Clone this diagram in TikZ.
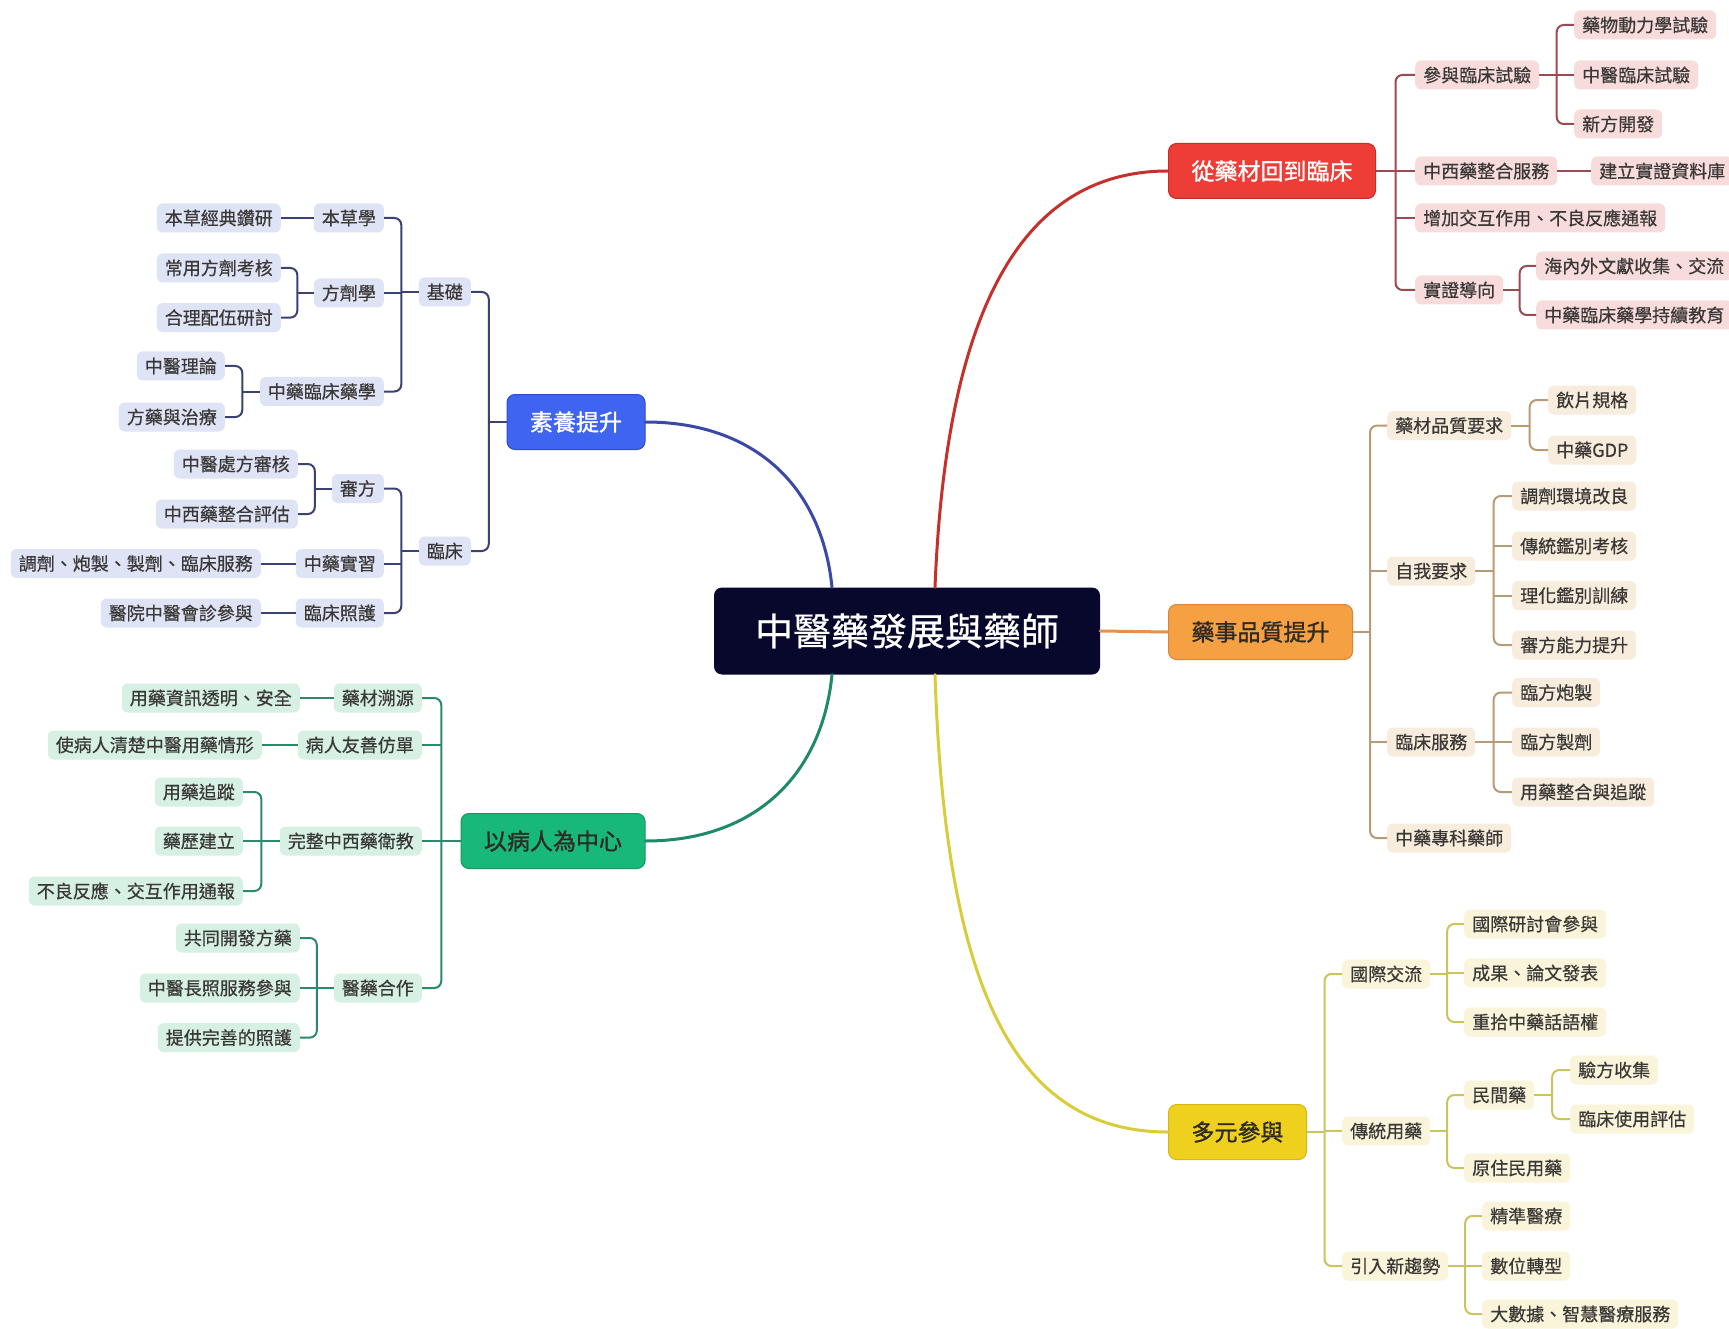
\documentclass[tikz,border=0pt]{standalone}
\usepackage{fontspec}
\setmainfont{Noto Sans CJK TC}
\newfontfamily\leaffont[FakeBold=0.5]{Noto Sans CJK TC}
\newfontfamily\mainfont[FakeBold=1.2]{Noto Sans CJK TC}
\usetikzlibrary{calc}
\definecolor{cenfill}{HTML}{08082C}
\definecolor{dtxt}{HTML}{2E2A24}
\definecolor{ltxt}{HTML}{3A3836}
% red
\definecolor{redmain}{HTML}{EE3D36}
\definecolor{rededge}{HTML}{C42E2A}
\definecolor{redline}{HTML}{C4302C}
\definecolor{redsub}{HTML}{9A4A52}
\definecolor{redlight}{HTML}{F8DCDC}
% orange
\definecolor{orgmain}{HTML}{F5A043}
\definecolor{orgedge}{HTML}{D8843A}
\definecolor{orgline}{HTML}{E8904A}
\definecolor{orgsub}{HTML}{B89A74}
\definecolor{orglight}{HTML}{F8ECDD}
% yellow
\definecolor{yelmain}{HTML}{F0D01E}
\definecolor{yeledge}{HTML}{D4B816}
\definecolor{yelline}{HTML}{D9CC3A}
\definecolor{yelsub}{HTML}{CBC35C}
\definecolor{yellight}{HTML}{FAF5DA}
% blue
\definecolor{blumain}{HTML}{3F64F0}
\definecolor{bluedge}{HTML}{2E4CC4}
\definecolor{bluline}{HTML}{3A48A8}
\definecolor{blusub}{HTML}{3B4273}
\definecolor{blulight}{HTML}{DFE3F6}
% green
\definecolor{grnmain}{HTML}{18B978}
\definecolor{grnedge}{HTML}{139862}
\definecolor{grnline}{HTML}{1F8A66}
\definecolor{grnsub}{HTML}{2B8A68}
\definecolor{grnlight}{HTML}{D6F1E4}

\colorlet{cf}{white}
\colorlet{cl}{black}

\newcommand\Rfork[3]{%
  \path ($(#1.east)!.5!(#2.west)$) coordinate (sp);
  \draw[subline,rounded corners=7pt] (#2.west) -- (#2.west -| sp) -- (#3.west -| sp) -- (#3.west);
  \draw[subline] (#1.east) -- (#1.east -| sp);}
\newcommand\Rmid[1]{\draw[subline] (#1.west -| sp) -- (#1.west);}
\newcommand\Lfork[3]{%
  \path ($(#1.west)!.5!(#2.east)$) coordinate (sp);
  \draw[subline,rounded corners=7pt] (#2.east) -- (#2.east -| sp) -- (#3.east -| sp) -- (#3.east);
  \draw[subline] (#1.west) -- (#1.west -| sp);}
\newcommand\Lmid[1]{\draw[subline] (#1.east -| sp) -- (#1.east);}

\begin{document}
\begin{tikzpicture}[x=1pt,y=-1pt,
  leaf/.style={fill=cf, text=ltxt, rounded corners=6pt, inner xsep=8pt, inner ysep=0pt,
    minimum height=29pt, font=\leaffont\fontsize{18pt}{20pt}\selectfont},
  rleaf/.style={leaf, anchor=west},
  lleaf/.style={leaf, anchor=east},
  subline/.style={draw=cl, line width=2pt},
  mainline/.style={line width=3pt, line cap=round},
  mainnode/.style={rounded corners=8pt, inner xsep=23pt, inner ysep=0pt, minimum height=55pt,
    line width=1pt, font=\mainfont\fontsize{23pt}{25pt}\selectfont},
  central/.style={fill=cenfill, text=white, rounded corners=8pt, minimum width=386pt,
    minimum height=87pt, inner sep=0pt, font=\leaffont\fontsize{38pt}{40pt}\selectfont}]

\path[fill=white, use as bounding box] (0,0) rectangle (1729,1329);
\clip (0,0) rectangle (1729,1329);

% central and main nodes
\node[central] (c) at (907,631) {中醫藥發展與藥師};
\node[mainnode, fill=redmain, draw=rededge, text=white, anchor=west] (R) at (1168,171) {從藥材回到臨床};
\node[mainnode, fill=orgmain, draw=orgedge, text=dtxt, anchor=west] (O) at (1168,632) {藥事品質提升};
\node[mainnode, fill=yelmain, draw=yeledge, text=dtxt, anchor=west] (Y) at (1168,1132) {多元參與};
\node[mainnode, fill=blumain, draw=bluedge, text=white] (B) at (576,422) {素養提升};
\node[mainnode, fill=grnmain, draw=grnedge, text=dtxt] (G) at (553,841) {以病人為中心};

% main connectors
\draw[mainline, draw=bluline] ($(c.north)+(-75,0)$) .. controls +(-10,-100) and +(110,0) .. (B.east);
\draw[mainline, draw=redline] ($(c.north)+(28,0)$) .. controls +(10,-250) and +(-160,0) .. (R.west);
\draw[mainline, draw=grnline] ($(c.south)+(-75,0)$) .. controls +(-10,100) and +(110,0) .. (G.east);
\draw[mainline, draw=yelline] ($(c.south)+(28,0)$) .. controls +(10,300) and +(-160,0) .. (Y.west);
\draw[mainline, draw=orgline] (c.east) -- (O.west);

% red branch
\begin{scope}
\colorlet{cf}{redlight}\colorlet{cl}{redsub}
\node[rleaf] (r1) at (1415,75) {參與臨床試驗};
\node[rleaf] (r11) at (1574,25) {藥物動力學試驗};
\node[rleaf] (r12) at (1574,75) {中醫臨床試驗};
\node[rleaf] (r13) at (1574,124) {新方開發};
\node[rleaf] (r2) at (1415,171) {中西藥整合服務};
\node[rleaf] (r21) at (1591,171) {建立實證資料庫};
\node[rleaf] (r3) at (1415,218) {增加交互作用、不良反應通報};
\node[rleaf] (r4) at (1415,290) {實證導向};
\node[rleaf] (r41) at (1536,266) {海內外文獻收集、交流};
\node[rleaf] (r42) at (1536,315) {中藥臨床藥學持續教育};
\Rfork{R}{r1}{r4}\Rmid{r2}\Rmid{r3}
\Rfork{r1}{r11}{r13}\Rmid{r12}
\draw[subline] (r2.east) -- (r21.west);
\Rfork{r4}{r41}{r42}
\end{scope}

% orange branch
\begin{scope}
\colorlet{cf}{orglight}\colorlet{cl}{orgsub}
\node[rleaf] (o1) at (1387,425.6) {藥材品質要求};
\node[rleaf] (o11) at (1548,400) {飲片規格};
\node[rleaf] (o12) at (1548,450) {中藥GDP};
\node[rleaf] (o2) at (1387,571) {自我要求};
\node[rleaf] (o21) at (1512,496) {調劑環境改良};
\node[rleaf] (o22) at (1512,546) {傳統鑑別考核};
\node[rleaf] (o23) at (1512,595.5) {理化鑑別訓練};
\node[rleaf] (o24) at (1512,645) {審方能力提升};
\node[rleaf] (o3) at (1387,742) {臨床服務};
\node[rleaf] (o31) at (1512,692.5) {臨方炮製};
\node[rleaf] (o32) at (1512,742) {臨方製劑};
\node[rleaf] (o33) at (1512,792) {用藥整合與追蹤};
\node[rleaf] (o4) at (1387,838) {中藥專科藥師};
\Rfork{O}{o1}{o4}\Rmid{o2}\Rmid{o3}
\Rfork{o1}{o11}{o12}
\Rfork{o2}{o21}{o24}\Rmid{o22}\Rmid{o23}
\Rfork{o3}{o31}{o33}\Rmid{o32}
\end{scope}

% yellow branch
\begin{scope}
\colorlet{cf}{yellight}\colorlet{cl}{yelsub}
\node[rleaf] (y1) at (1342,974) {國際交流};
\node[rleaf] (y11) at (1464,924) {國際研討會參與};
\node[rleaf] (y12) at (1464,973) {成果、論文發表};
\node[rleaf] (y13) at (1464,1022) {重拾中藥話語權};
\node[rleaf] (y2) at (1342,1131) {傳統用藥};
\node[rleaf] (y21) at (1464,1095) {民間藥};
\node[rleaf] (y211) at (1570,1070) {驗方收集};
\node[rleaf] (y212) at (1570,1119) {臨床使用評估};
\node[rleaf] (y22) at (1464,1168) {原住民用藥};
\node[rleaf] (y3) at (1342,1266) {引入新趨勢};
\node[rleaf] (y31) at (1482,1216) {精準醫療};
\node[rleaf] (y32) at (1482,1266) {數位轉型};
\node[rleaf] (y33) at (1482,1314) {大數據、智慧醫療服務};
\Rfork{Y}{y1}{y3}\Rmid{y2}
\Rfork{y1}{y11}{y13}\Rmid{y12}
\Rfork{y2}{y21}{y22}
\Rfork{y21}{y211}{y212}
\Rfork{y3}{y31}{y33}\Rmid{y32}
\end{scope}

% blue branch
\begin{scope}
\colorlet{cf}{blulight}\colorlet{cl}{blusub}
\node[lleaf] (b1) at (471,292) {基礎};
\node[lleaf] (b11) at (384,218) {本草學};
\node[lleaf] (b111) at (281,218) {本草經典鑽研};
\node[lleaf] (b12) at (384,293) {方劑學};
\node[lleaf] (b121) at (281,268) {常用方劑考核};
\node[lleaf] (b122) at (281,317.6) {合理配伍研討};
\node[lleaf] (b13) at (384,391.5) {中藥臨床藥學};
\node[lleaf] (b131) at (225,366) {中醫理論};
\node[lleaf] (b132) at (225,417) {方藥與治療};
\node[lleaf] (b2) at (471,551) {臨床};
\node[lleaf] (b21) at (384,488.5) {審方};
\node[lleaf] (b211) at (298,464) {中醫處方審核};
\node[lleaf] (b212) at (298,514) {中西藥整合評估};
\node[lleaf] (b22) at (384,563.5) {中藥實習};
\node[lleaf] (b221) at (261,563.5) {調劑、炮製、製劑、臨床服務};
\node[lleaf] (b23) at (384,613) {臨床照護};
\node[lleaf] (b231) at (261,613) {醫院中醫會診參與};
\Lfork{B}{b1}{b2}
\Lfork{b1}{b11}{b13}\Lmid{b12}
\draw[subline] (b11.west) -- (b111.east);
\Lfork{b12}{b121}{b122}
\Lfork{b13}{b131}{b132}
\Lfork{b2}{b21}{b23}\Lmid{b22}
\Lfork{b21}{b211}{b212}
\draw[subline] (b22.west) -- (b221.east);
\draw[subline] (b23.west) -- (b231.east);
\end{scope}

% green branch
\begin{scope}
\colorlet{cf}{grnlight}\colorlet{cl}{grnsub}
\node[lleaf] (g1) at (422,698) {藥材溯源};
\node[lleaf] (g11) at (300,698) {用藥資訊透明、安全};
\node[lleaf] (g2) at (422,745) {病人友善仿單};
\node[lleaf] (g21) at (262,745) {使病人清楚中醫用藥情形};
\node[lleaf] (g3) at (422,841) {完整中西藥衛教};
\node[lleaf] (g31) at (243,792) {用藥追蹤};
\node[lleaf] (g32) at (243,841) {藥歷建立};
\node[lleaf] (g33) at (243,891) {不良反應、交互作用通報};
\node[lleaf] (g4) at (422,988) {醫藥合作};
\node[lleaf] (g41) at (300,938) {共同開發方藥};
\node[lleaf] (g42) at (300,988) {中醫長照服務參與};
\node[lleaf] (g43) at (300,1037.6) {提供完善的照護};
\Lfork{G}{g1}{g4}\Lmid{g2}\Lmid{g3}
\draw[subline] (g1.west) -- (g11.east);
\draw[subline] (g2.west) -- (g21.east);
\Lfork{g3}{g31}{g33}\Lmid{g32}
\Lfork{g4}{g41}{g43}\Lmid{g42}
\end{scope}

\end{tikzpicture}
\end{document}
